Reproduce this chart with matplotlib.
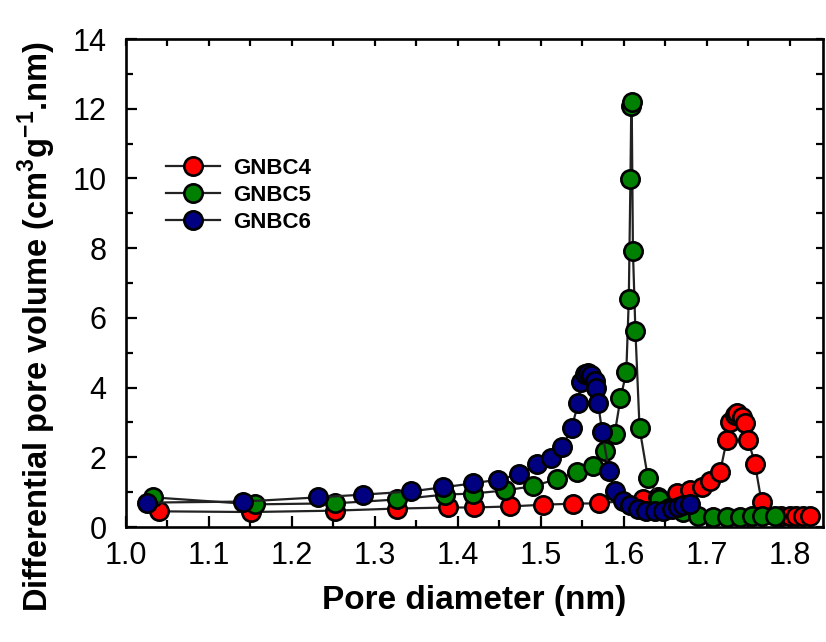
import numpy as np
import matplotlib
matplotlib.use('Agg')
import matplotlib.pyplot as plt
from matplotlib.ticker import MultipleLocator

plt.rcParams['font.family'] = ['Liberation Sans', 'DejaVu Sans']
plt.rcParams['mathtext.fontset'] = 'custom'
plt.rcParams['mathtext.rm'] = 'Liberation Sans'
plt.rcParams['mathtext.bf'] = 'Liberation Sans:bold'

# Pore size distribution (nm vs cm3/g.nm)
d_GNBC4 = [1.040, 1.151, 1.252, 1.327, 1.388, 1.419, 1.463, 1.503, 1.539, 1.570,
           1.623, 1.641, 1.664, 1.680, 1.694, 1.704, 1.716, 1.724, 1.728, 1.734,
           1.737, 1.742, 1.746, 1.750, 1.758, 1.766, 1.790, 1.800, 1.808, 1.816, 1.824]
v_GNBC4 = [0.45, 0.43, 0.47, 0.53, 0.56, 0.56, 0.59, 0.64, 0.67, 0.68,
           0.80, 0.86, 0.97, 1.05, 1.14, 1.33, 1.57, 2.49, 3.00, 3.20,
           3.26, 3.15, 2.97, 2.49, 1.82, 0.72, 0.33, 0.32, 0.32, 0.32, 0.32]

d_GNBC5 = [1.033, 1.155, 1.252, 1.327, 1.384, 1.418, 1.457, 1.490, 1.519, 1.543,
           1.563, 1.577, 1.589, 1.596, 1.603, 1.606, 1.608, 1.609, 1.6095, 1.611,
           1.614, 1.619, 1.629, 1.643, 1.655, 1.671, 1.689, 1.707, 1.724, 1.740,
           1.755, 1.767, 1.782]
v_GNBC5 = [0.85, 0.65, 0.68, 0.79, 0.93, 0.96, 1.05, 1.17, 1.37, 1.57,
           1.74, 2.17, 2.68, 3.69, 4.44, 6.53, 9.98, 12.08, 12.20, 7.92,
           5.61, 2.83, 1.42, 0.80, 0.55, 0.42, 0.33, 0.30, 0.30, 0.30,
           0.31, 0.31, 0.31]

d_GNBC6 = [1.025, 1.141, 1.231, 1.286, 1.343, 1.382, 1.418, 1.448, 1.474, 1.495,
           1.512, 1.526, 1.537, 1.545, 1.548, 1.553, 1.557, 1.561, 1.565, 1.567,
           1.569, 1.574, 1.582, 1.589, 1.599, 1.607, 1.617, 1.627, 1.637, 1.647,
           1.658, 1.665, 1.671, 1.680]
v_GNBC6 = [0.70, 0.73, 0.85, 0.93, 1.02, 1.14, 1.25, 1.36, 1.51, 1.80,
           1.97, 2.31, 2.83, 3.55, 4.15, 4.38, 4.42, 4.35, 4.20, 3.98,
           3.55, 2.72, 1.62, 1.02, 0.76, 0.62, 0.53, 0.47, 0.45, 0.47,
           0.53, 0.56, 0.62, 0.67]

samples = ['GNBC4', 'GNBC5', 'GNBC6']
colours = ['#ff0000', '#008000', '#000080']

fig = plt.figure(figsize=(8.26, 6.42), dpi=100)
ax = fig.add_axes([0.1525, 0.1791, 0.8438, 0.7601])

data = [(d_GNBC4, v_GNBC4), (d_GNBC5, v_GNBC5), (d_GNBC6, v_GNBC6)]
for (x, y), name, c in zip(data, samples, colours):
    ax.plot(x, y, '-o', color='#222222', lw=1.6, marker='o', ms=13.2,
            mfc=c, mec='black', mew=1.9, label=name)

ax.set_xlim(1.0, 1.84)
ax.set_ylim(0, 14)
ax.xaxis.set_major_locator(MultipleLocator(0.1))
ax.xaxis.set_minor_locator(MultipleLocator(0.05))
ax.yaxis.set_major_locator(MultipleLocator(2))
ax.yaxis.set_minor_locator(MultipleLocator(1))
ax.xaxis.set_major_formatter(matplotlib.ticker.FormatStrFormatter('%.1f'))

for s in ax.spines.values():
    s.set_linewidth(1.9)

ax.tick_params(which='major', direction='in', length=8, width=1.6, labelsize=22)
ax.tick_params(which='minor', direction='in', length=5, width=1.6)
ax.tick_params(axis='x', which='major', pad=10)
ax.tick_params(axis='y', which='major', pad=14)

# top and right axes carry only short ticks
axt = ax.secondary_xaxis('top')
axt.xaxis.set_major_locator(MultipleLocator(0.05))
axt.tick_params(direction='in', length=5, width=1.6, labeltop=False)
axr = ax.secondary_yaxis('right')
axr.yaxis.set_major_locator(MultipleLocator(1))
axr.tick_params(direction='in', length=5, width=1.6, labelright=False)

ax.set_xlabel('Pore diameter (nm)', fontsize=24, fontweight='bold', labelpad=10)
ax.set_ylabel(r'Differential pore volume (cm$^\mathbf{3}$g$^\mathbf{-1}$.nm)',
              fontsize=23.5, fontweight='bold')
ax.yaxis.set_label_coords(-0.098, 0.41)

leg = ax.legend(loc='upper left', bbox_to_anchor=(0.045, 0.775), frameon=False,
                prop={'size': 16, 'weight': 'bold'}, handlelength=2.4,
                handletextpad=0.6, labelspacing=0.28, borderaxespad=0)

plt.savefig('out.png', dpi=100)
